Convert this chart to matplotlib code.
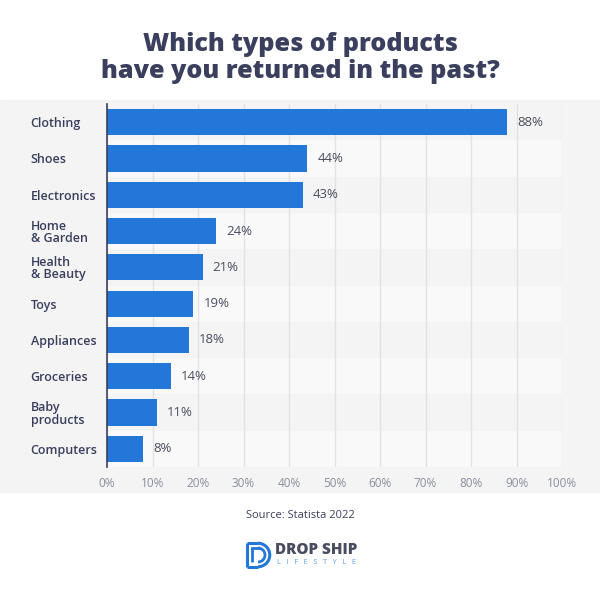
import numpy as np
import matplotlib.pyplot as plt
from matplotlib.patches import Rectangle, Arc

categories = ["Clothing", "Shoes", "Electronics", "Home\n& Garden", "Health\n& Beauty",
              "Toys", "Appliances", "Groceries", "Baby\nproducts", "Computers"]
values = [88, 44, 43, 24, 21, 19, 18, 14, 11, 8]
xticks = [0, 10, 20, 30, 40, 50, 60, 70, 80, 90, 100]

navy = "#3a3f5e"
blue = "#2277d9"
plt.rcParams['font.family'] = ['Open Sans', 'DejaVu Sans']

fig = plt.figure(figsize=(6, 6), dpi=100)
fig.patch.set_facecolor("white")
# grey panel behind the chart
fig.patches.append(Rectangle((0, 1 - 492/600), 1, (492 - 100)/600,
                             transform=fig.transFigure, color="#f4f4f4", zorder=-10))

ax = fig.add_axes([107/600, 1 - 467/600, (562 - 107)/600, (467 - 104)/600])
ax.set_facecolor("none")
n = len(categories)
y = np.arange(n)

# alternating row stripes
for i in range(n):
    if i % 2 == 1:
        ax.axhspan(i - 0.5, i + 0.5, color="#f9f9f9", zorder=0, lw=0)

ax.barh(y, values, height=0.72, color=blue, zorder=3)
for yi, v in zip(y, values):
    ax.text(v + 2.2, yi, f"{v}%", va="center", ha="left", fontsize=9.5, color="#4a4d60")

ax.set_xlim(0, 100)
ax.set_ylim(n - 0.5, -0.5)
ax.set_xticks(xticks)
ax.set_xticklabels([f"{t}%" for t in xticks])
ax.grid(axis="x", color="#e2e2e2", lw=1, zorder=1)
ax.set_axisbelow(True)
for s in ["top", "right", "bottom"]:
    ax.spines[s].set_visible(False)
ax.spines["left"].set_color(navy)
ax.spines["left"].set_linewidth(1.2)
ax.spines["left"].set_zorder(5)

ax.set_yticks(y)
ax.set_yticklabels(categories, fontsize=9, color=navy, ha="left", fontweight="semibold",
                   linespacing=0.95)
ax.tick_params(axis="y", length=0, pad=55)
ax.tick_params(axis="x", length=0, pad=7, labelsize=8.5, labelcolor="#8a8e9c")

fig.text(0.5, 1 - 58/600, "Which types of products\nhave you returned in the past?",
         ha="center", va="center", fontsize=18.2, fontweight="heavy", color=navy,
         linespacing=1.08)
fig.text(0.5, 1 - 516/600, "Source: Statista 2022", ha="center", va="center",
         fontsize=8, color=navy)

# logo
fig.text(0.527, 1 - 550/600, "DROP SHIP", ha="center", va="center", fontsize=11,
         fontweight="heavy", color="#4a4d60")
fig.text(0.527, 1 - 563/600, "L   I   F   E   S   T   Y   L   E", ha="center", va="center",
         fontsize=5.2, color="#5aa0ea")
icon = fig.add_axes([244/600, 1 - 569/600, 28/600, 28/600])
icon.set_xlim(0, 1)
icon.set_ylim(0, 1)
icon.axis("off")
icon.plot([0.12, 0.12], [0.08, 0.92], color=blue, lw=2.2, solid_capstyle="butt")
icon.plot([0.12, 0.5], [0.92, 0.92], color=blue, lw=2.2, solid_capstyle="butt")
icon.plot([0.12, 0.5], [0.08, 0.08], color=blue, lw=2.2, solid_capstyle="butt")
icon.add_patch(Arc((0.5, 0.5), 0.84, 0.84, theta1=-90, theta2=90, color=blue, lw=2.2))
icon.plot([0.3, 0.3], [0.25, 0.75], color=blue, lw=2.0, solid_capstyle="butt")
icon.add_patch(Arc((0.5, 0.5), 0.5, 0.5, theta1=-90, theta2=90, color=blue, lw=2.0))
icon.plot([0.3, 0.5], [0.75, 0.75], color=blue, lw=2.0)

fig.savefig("out.png", dpi=100)
